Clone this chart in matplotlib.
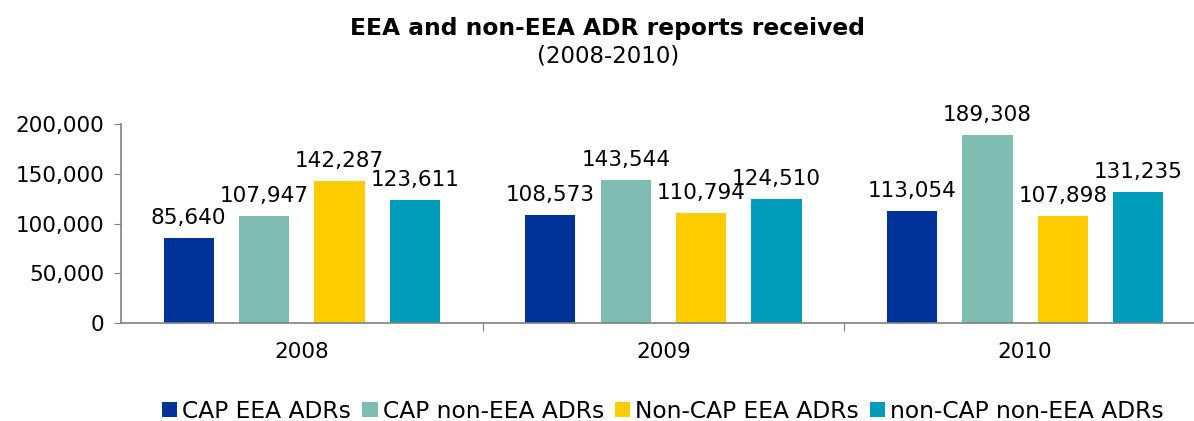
import matplotlib
matplotlib.use("Agg")
import matplotlib.pyplot as plt
import numpy as np
from matplotlib.ticker import FuncFormatter

years = ["2008", "2009", "2010"]
series = ["CAP EEA ADRs", "CAP non-EEA ADRs", "Non-CAP EEA ADRs", "non-CAP non-EEA ADRs"]
cap_eea = [85640, 108573, 113054]
cap_non_eea = [107947, 143544, 189308]
noncap_eea = [142287, 110794, 107898]
noncap_non_eea = [123611, 124510, 131235]
colors = ["#003399", "#7FBDB3", "#FFCC00", "#009CBB"]

values = [cap_eea, cap_non_eea, noncap_eea, noncap_non_eea]

fig = plt.figure(figsize=(11.94, 4.21), dpi=100)
ax = fig.add_axes([121 / 1194, 1 - 323 / 421, 1 - 121 / 1194 + 0.01, (323 - 124) / 421])

x = np.arange(len(years))
step = 0.2085
width = 0.139
for i, (vals, name) in enumerate(zip(values, series)):
    pos = x + (i - 1.5) * step
    bars = ax.bar(pos, vals, width, color=colors[i], label=name, zorder=2)
    for b, v in zip(bars, vals):
        ax.text(b.get_x() + b.get_width() / 2, v + 10000, "{:,}".format(v),
                ha="center", va="bottom", fontsize=15.5)

ax.set_xlim(-0.5, 2.5)
ax.set_ylim(0, 200000)
ax.set_yticks([0, 50000, 100000, 150000, 200000])
ax.yaxis.set_major_formatter(FuncFormatter(lambda v, p: "{:,}".format(int(v))))
ax.tick_params(axis="y", labelsize=15.5, length=5, color="#808080", pad=7)

ax.set_xticks([0.5, 1.5])
ax.set_xticklabels([])
ax.tick_params(axis="x", length=6, color="#808080", direction="out")
for xi, y in zip(x, years):
    ax.text(xi, -19000, y, ha="center", va="top", fontsize=15.5)

for s in ["top", "right"]:
    ax.spines[s].set_visible(False)
for s in ["left", "bottom"]:
    ax.spines[s].set_color("#808080")
    ax.spines[s].set_linewidth(1.2)

fig.text(608 / 1194, 1 - 29 / 421, "EEA and non-EEA ADR reports received",
         ha="center", va="center", fontsize=16.8, fontweight="bold")
fig.text(608 / 1194, 1 - 56 / 421, "(2008-2010)", ha="center", va="center", fontsize=16.5)

fig.legend(loc="center", bbox_to_anchor=(663 / 1194, 1 - 411 / 421), ncol=4,
           frameon=False, fontsize=16.8, handlelength=0.65, handleheight=0.6,
           handletextpad=0.22, columnspacing=0.47, borderaxespad=0, borderpad=0)

fig.savefig("out.png", dpi=100)
